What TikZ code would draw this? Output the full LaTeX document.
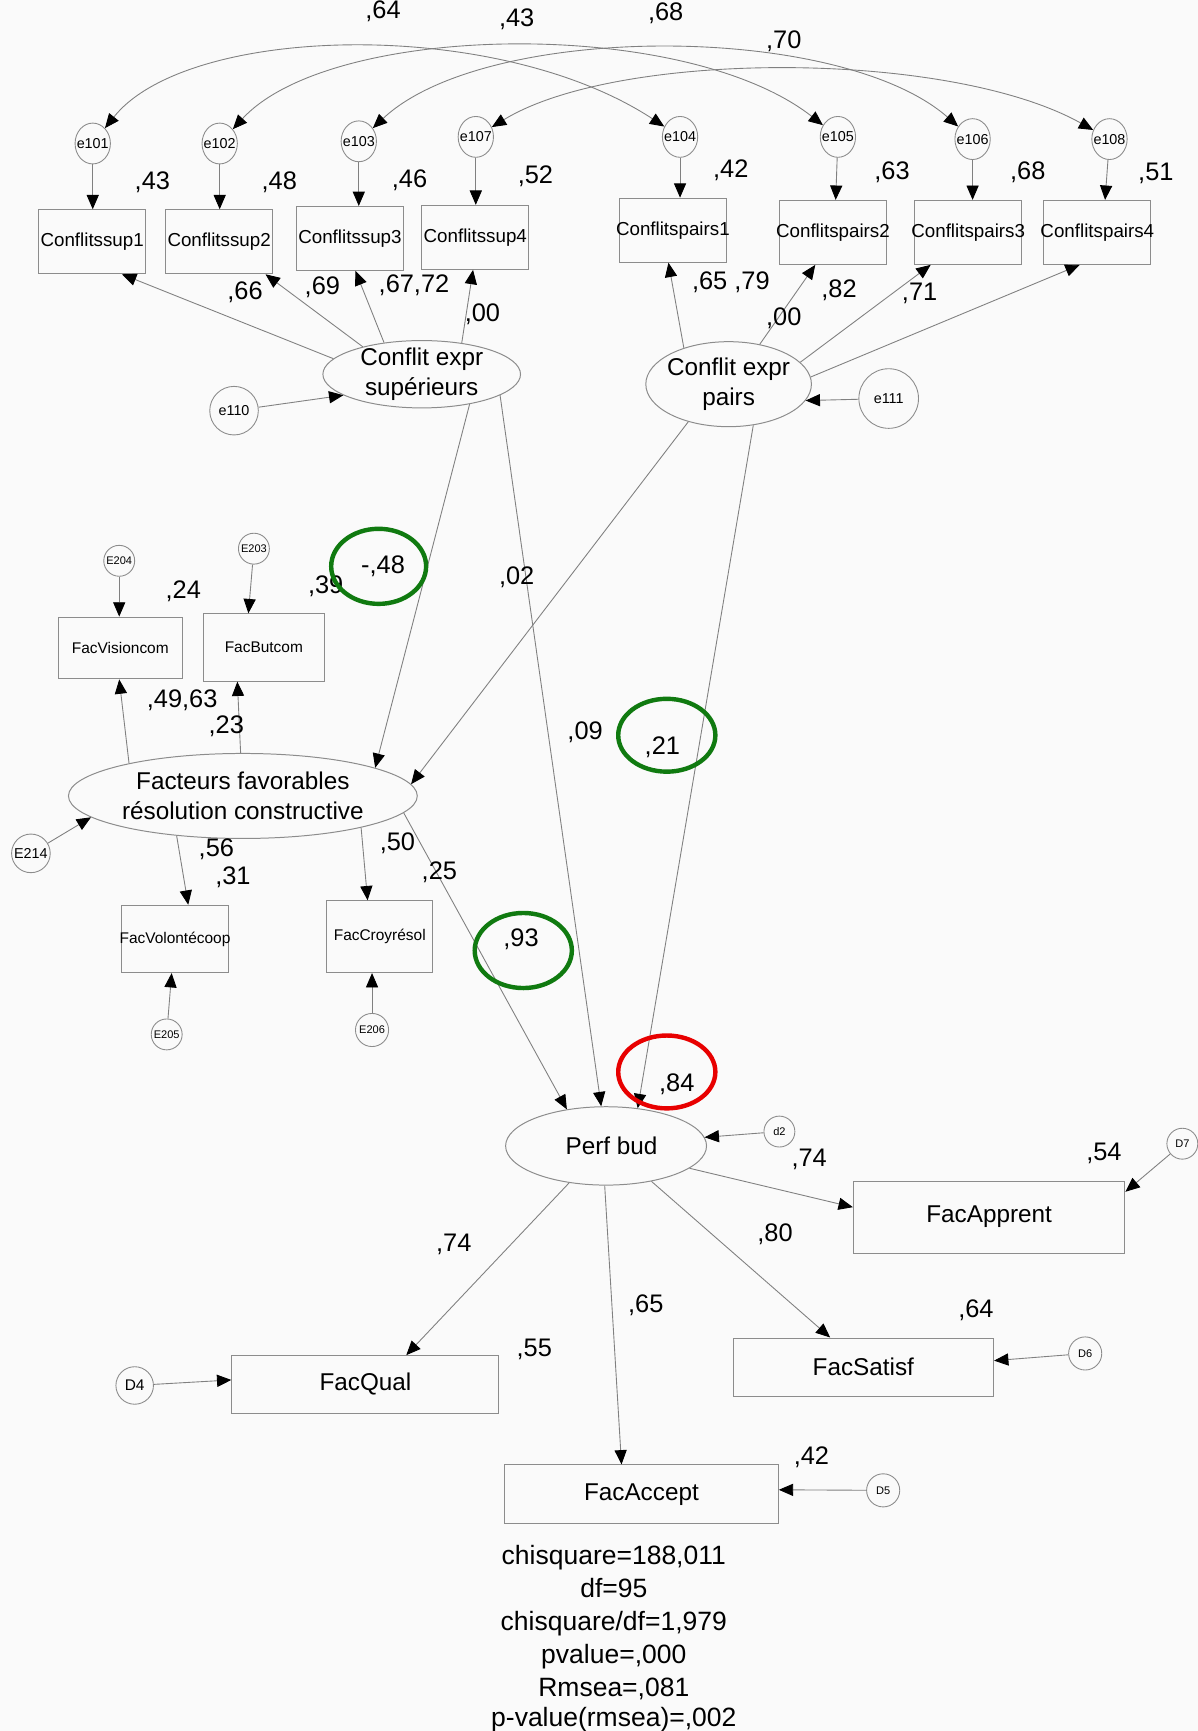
\documentclass[tikz,border=0pt]{standalone}
\usepackage{fontspec}
\setmainfont{Liberation Sans}
\usetikzlibrary{arrows.meta,shapes.geometric}
\definecolor{lincol}{RGB}{128,128,128}
\definecolor{bordcol}{RGB}{140,140,140}
\definecolor{grncol}{RGB}{16,122,16}
\definecolor{redcol}{RGB}{232,0,0}
\definecolor{bgcol}{RGB}{250,250,250}
\tikzset{
  amostip/.tip={Triangle[length=13pt,width=11pt,color=black]},
  conn/.style={draw=lincol,line width=0.8pt,-amostip},
  cov/.style={draw=lincol,line width=0.8pt,amostip-amostip},
  obs/.style={draw=bordcol,line width=0.9pt,rectangle,inner sep=0pt},
  lat/.style={draw=bordcol,line width=0.9pt,ellipse,inner sep=0pt},
  errc/.style={draw=bordcol,line width=0.8pt,ellipse,inner sep=0pt},
  errtop/.style={errc,minimum width=32pt,minimum height=37pt,font=\fontsize{13}{13}\selectfont},
  smerr/.style={errc,minimum size=#1,font=\fontsize{10}{10}\selectfont},
  topbox/.style={obs,minimum width=97pt,minimum height=58pt,font=\fontsize{17}{17}\selectfont},
  midbox/.style={obs,font=\fontsize{14}{14}\selectfont},
  bigbox/.style={obs,font=\fontsize{22}{22}\selectfont},
  lattext/.style={align=center,inner sep=0pt,font=\fontsize{22}{27}\selectfont},
  val/.style={inner sep=0pt,font=\fontsize{23}{23}\selectfont},
  stat/.style={inner sep=0pt,anchor=base,font=\fontsize{24}{24}\selectfont},
  ring/.style={line width=4pt}
}
\begin{document}
\begin{tikzpicture}[x=1pt,y=-1pt]
\fill[bgcol] (0,0) rectangle (1085,1568);
\useasboundingbox (0,0) rectangle (1085,1568);

% ---- top error terms
\node[errtop] (e101) at (84,130) {\makebox[0pt]{e101}};
\node[errtop] (e102) at (199,130) {\makebox[0pt]{e102}};
\node[errtop] (e103) at (325,128) {\makebox[0pt]{e103}};
\node[errtop] (e107) at (431,124) {\makebox[0pt]{e107}};
\node[errtop] (e104) at (616,124) {\makebox[0pt]{e104}};
\node[errtop] (e105) at (759,124) {\makebox[0pt]{e105}};
\node[errtop] (e106) at (881,126) {\makebox[0pt]{e106}};
\node[errtop] (e108) at (1005,126) {\makebox[0pt]{e108}};

% ---- top indicators
\node[topbox] (cs1) at (83.5,219) {\makebox[0pt]{Conflitssup1}};
\node[topbox] (cs2) at (198.5,219) {\makebox[0pt]{Conflitssup2}};
\node[topbox] (cs3) at (317,216) {\makebox[0pt]{Conflitssup3}};
\node[topbox] (cs4) at (430.5,215) {\makebox[0pt]{Conflitssup4}};
\node[topbox] (cp1) at (609.5,208.5) {\makebox[0pt]{Conflitspairs1}};
\node[topbox] (cp2) at (754.5,210.5) {\makebox[0pt]{Conflitspairs2}};
\node[topbox] (cp3) at (877,210.5) {\makebox[0pt]{Conflitspairs3}};
\node[topbox] (cp4) at (994,210.5) {\makebox[0pt]{Conflitspairs4}};

% ---- latent variables
\node[lat,minimum width=179pt,minimum height=61pt] (sup) at (382,339) {};
\node[lattext] (supT) at (382,339) {Conflit expr\\supérieurs};
\node[lat,minimum width=150pt,minimum height=77pt] (pairs) at (660,348) {};
\node[lattext] (pairsT) at (660,348) {Conflit expr\\pairs};
\node[lat,minimum width=316pt,minimum height=77pt] (fac) at (220,721) {};
\node[lattext] (facT) at (220,721) {Facteurs favorables\\résolution constructive};
\node[lat,minimum width=182pt,minimum height=71pt] (perf) at (549,1038) {};
\node[lattext] (perfT) at (554,1038) {Perf bud};

\node[errc,minimum size=44pt,font=\fontsize{13}{13}\selectfont] (e110) at (212,372) {\makebox[0pt]{e110}};
\node[errc,minimum size=54pt,font=\fontsize{13}{13}\selectfont] (e111) at (805,361) {\makebox[0pt]{e111}};

% ---- middle indicators
\node[midbox,minimum width=112pt,minimum height=56pt] (fv) at (109,587) {\makebox[0pt]{FacVisioncom}};
\node[midbox,minimum width=110pt,minimum height=61pt] (fb) at (239,586.5) {\makebox[0pt]{FacButcom}};
\node[midbox,minimum width=97pt,minimum height=61pt] (fvc) at (158.5,850.5) {\makebox[0pt]{FacVolontécoop}};
\node[midbox,minimum width=96pt,minimum height=65pt] (fcr) at (344,848.5) {\makebox[0pt]{FacCroyrésol}};
\node[smerr=28pt] (E204) at (108,508) {\makebox[0pt]{E204}};
\node[smerr=28pt] (E203) at (230,497) {\makebox[0pt]{E203}};
\node[smerr=28pt] (E205) at (151,937) {\makebox[0pt]{E205}};
\node[smerr=30pt] (E206) at (337,933) {\makebox[0pt]{E206}};
\node[errc,minimum size=35pt,font=\fontsize{13}{13}\selectfont] (E214) at (28,773) {\makebox[0pt]{E214}};

% ---- outcome indicators
\node[bigbox,minimum width=246pt,minimum height=65pt] (fa) at (896,1102.5) {FacApprent};
\node[bigbox,minimum width=236pt,minimum height=53pt] (fs) at (782,1238.5) {FacSatisf};
\node[bigbox,minimum width=242pt,minimum height=52pt] (fq) at (331,1254) {FacQual};
\node[bigbox,minimum width=248pt,minimum height=53pt] (facc) at (581,1353.5) {FacAccept};
\node[smerr=28pt] (d2) at (706,1025) {\makebox[0pt]{d2}};
\node[smerr=28pt] (D7) at (1071,1036) {\makebox[0pt]{D7}};
\node[smerr=30pt] (D6) at (983,1226) {\makebox[0pt]{D6}};
\node[smerr=30pt] (D5) at (800,1350) {\makebox[0pt]{D5}};
\node[errc,minimum size=34pt,font=\fontsize{14}{14}\selectfont] (D4) at (122,1255) {\makebox[0pt]{D4}};

% ---- covariances
\draw[cov] (e101) .. controls (170,22) and (450,15) .. (e104);
\draw[cov] (e102) .. controls (300,20) and (620,15) .. (e105);
\draw[cov] (e103) .. controls (440,20) and (760,20) .. (e106);
\draw[cov] (e107) .. controls (560,45) and (860,45) .. (e108);

% ---- error arrows top
\draw[conn] (e101) -- (e101 |- cs1.north);
\draw[conn] (e102) -- (e102 |- cs2.north);
\draw[conn] (e103) -- (e103 |- cs3.north);
\draw[conn] (e107) -- (e107 |- cs4.north);
\draw[conn] (e104) -- (e104 |- cp1.north);
\draw[conn] (e105) -- ([xshift=-2pt]e105 |- cp2.north);
\draw[conn] (e106) -- (e106 |- cp3.north);
\draw[conn] (e108) -- ([xshift=-4pt]e108 |- cp4.north);

% ---- loadings top
\draw[conn] (sup.170) -- ([xshift=27pt]cs1.south);
\draw[conn] (sup.155) -- ([xshift=42pt]cs2.south);
\draw[conn] (sup.140) -- ([xshift=5pt]cs3.south);
\draw[conn] (sup.38) -- ([xshift=-2pt]cs4.south);
\draw[conn] (e110) -- (sup.195);
\draw[conn] (pairs.141) -- ([xshift=-4pt]cp1.south);
\draw[conn] (pairs.52) -- ([xshift=-16pt]cp2.south);
\draw[conn] (pairs.17) -- ([xshift=-34pt]cp3.south);
\draw[conn] (pairs.5) -- ([xshift=-16pt]cp4.south);
\draw[conn] (e111) -- (pairs.-12);

% ---- structural paths
\draw[conn] (sup.-32) -- (fac.12);
\draw[conn] (sup.-15) -- (perf.97);
\draw[conn] (pairs.223) -- (fac.4);
\draw[conn] (pairs.-59) -- (perf.50);
\draw[conn] (fac.-6) -- (perf.137);

% ---- middle loadings
\draw[conn] (fac.164) -- ([xshift=-1pt]fv.south);
\draw[conn] (fac.93) -- ([xshift=-24pt]fb.south);
\draw[conn] (fac.211) -- ([xshift=12pt]fvc.north);
\draw[conn] (fac.-15) -- ([xshift=-11pt]fcr.north);
\draw[conn] (E204) -- (E204 |- fv.north);
\draw[conn] (E203) -- ([xshift=-14pt]fb.north);
\draw[conn] (E205) -- ([xshift=-3pt]fvc.south);
\draw[conn] (E206) -- (E206 |- fcr.south);
\draw[conn] (E214) -- (fac.188);

% ---- outcome loadings
\draw[conn] (d2) -- (perf.5);
\draw[conn] (perf.-15) -- ([yshift=9pt]fa.west);
\draw[conn] (perf.-38) -- ([xshift=-30pt]fs.north);
\draw[conn] (perf.-92) -- ([xshift=-18pt]facc.north);
\draw[conn] (perf.225) -- ([xshift=37pt]fq.north);
\draw[conn] (D7) -- ([yshift=-10pt]fa.north east);
\draw[conn] (D6) -- ([yshift=6pt]fs.east);
\draw[conn] (D4) -- ([yshift=4pt]fq.west);
\draw[conn] (D5) -- ([yshift=4pt]facc.east);

% ---- values
\node[val] (v01) at (347,10) {,64};
\node[val] (v02) at (468,17) {,43};
\node[val] (v03) at (603,12) {,68};
\node[val] (v04) at (710,37) {,70};
\node[val] (v05) at (138,165) {,43};
\node[val] (v06) at (253,165) {,48};
\node[val] (v07) at (371,163) {,46};
\node[val] (v08) at (485,160) {,52};
\node[val] (v09) at (662,154) {,42};
\node[val] (v10) at (808,156) {,63};
\node[val] (v11) at (931,156) {,68};
\node[val] (v12) at (1047,157) {,51};
\node[val] (v13) at (222,265) {,66};
\node[val] (v14) at (292,260) {,69};
\node[val] (v15) at (375,258) {,67,72};
\node[val] (v16) at (437,285) {,00};
\node[val] (v17) at (662,256) {,65 ,79};
\node[val] (v18) at (710,288) {,00};
\node[val] (v19) at (760,263) {,82};
\node[val] (v20) at (833,266) {,71};
\node[val] (v21) at (166,536) {,24};
\node[val] (v22) at (295,531) {,39};
\node[val] (v23) at (347,513) {-,48};
\node[val] (v24) at (468,523) {,02};
\node[val] (v25) at (165,634) {,49,63};
\node[val] (v26) at (205,658) {,23};
\node[val] (v27) at (196,769) {,56};
\node[val] (v28) at (211,795) {,31};
\node[val] (v29) at (360,764) {,50};
\node[val] (v30) at (398,790) {,25};
\node[val] (v31) at (530,663) {,09};
\node[val] (v32) at (600,677) {,21};
\node[val] (v33) at (472,851) {,93};
\node[val] (v34) at (613,982) {,84};
\node[val] (v35) at (733,1050) {,74};
\node[val] (v36) at (1000,1045) {,54};
\node[val] (v37) at (702,1118) {,80};
\node[val] (v38) at (411,1127) {,74};
\node[val] (v39) at (585,1182) {,65};
\node[val] (v40) at (884,1187) {,64};
\node[val] (v41) at (484,1222) {,55};
\node[val] (v42) at (735,1320) {,42};

% ---- highlight rings
\draw[ring,grncol] (343,513) ellipse [x radius=43pt, y radius=34pt];
\draw[ring,grncol] (604,666) ellipse [x radius=44pt, y radius=33pt];
\draw[ring,grncol] (474,861) ellipse [x radius=44pt, y radius=34pt];
\draw[ring,redcol] (604,971) ellipse [x radius=44pt, y radius=33pt];

% ---- fit statistics
\node[stat] (st1) at (556,1417) {chisquare=188,011};
\node[stat] (st2) at (556,1447) {df=95};
\node[stat] (st3) at (556,1477) {chisquare/df=1,979};
\node[stat] (st4) at (556,1507) {pvalue=,000};
\node[stat] (st5) at (556,1537) {Rmsea=,081};
\node[stat] (st6) at (556,1564) {p-value(rmsea)=,002};
\end{tikzpicture}
\end{document}
